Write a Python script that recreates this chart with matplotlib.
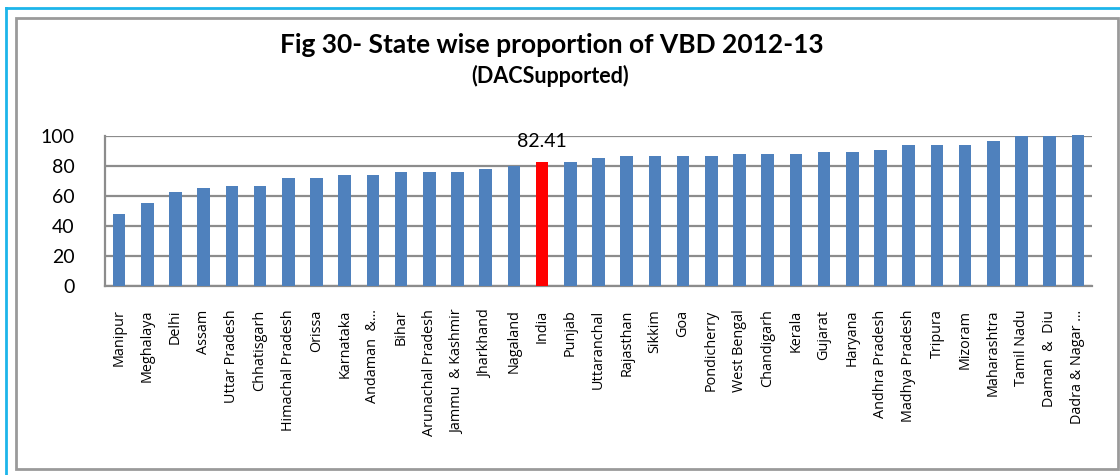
import matplotlib
matplotlib.use("Agg")
import matplotlib.pyplot as plt
from matplotlib.patches import Rectangle
from matplotlib.lines import Line2D

plt.rcParams['font.family'] = ['Lato', 'DejaVu Sans']

# data
states = ["Manipur", "Meghalaya", "Delhi", "Assam", "Uttar Pradesh", "Chhatisgarh",
          "Himachal Pradesh", "Orissa", "Karnataka", "Andaman  &...", "Bihar",
          "Arunachal Pradesh", "Jammu  & Kashmir", "Jharkhand", "Nagaland", "India",
          "Punjab", "Uttaranchal", "Rajasthan", "Sikkim", "Goa", "Pondicherry",
          "West Bengal", "Chandigarh", "Kerala", "Gujarat", "Haryana",
          "Andhra Pradesh", "Madhya Pradesh", "Tripura", "Mizoram", "Maharashtra",
          "Tamil Nadu", "Daman  &  Diu", "Dadra & Nagar ..."]
values = [48.2, 55.6, 62.9, 65.6, 67.0, 67.0, 71.7, 71.7, 74.3, 74.3, 75.7,
          75.7, 75.7, 78.3, 79.7, 82.41, 82.8, 85.3, 86.7, 86.7, 86.7, 86.7,
          88.0, 88.0, 88.0, 89.3, 89.3, 90.7, 94.0, 94.0, 94.0, 96.7,
          99.8, 99.8, 100.8]
highlight = "India"
yticks = [0, 20, 40, 60, 80, 100]

fig = plt.figure(figsize=(11.2, 4.75), dpi=100)

# outer blue frame (left and top) and inner grey frame
fig.add_artist(Line2D([5.5 / 1120, 5.5 / 1120], [0, 1 - 7.5 / 475],
                      transform=fig.transFigure, color="#1DB5EA", lw=2))
fig.add_artist(Line2D([5.5 / 1120, 1], [1 - 7.5 / 475, 1 - 7.5 / 475],
                      transform=fig.transFigure, color="#1DB5EA", lw=2))
fig.add_artist(Rectangle((16 / 1120, 6 / 475), (1118 - 16) / 1120, (457 - 6) / 475,
                         transform=fig.transFigure, fill=False,
                         edgecolor="#9A9A9A", lw=2))

ax = fig.add_axes([105 / 1120, 189 / 475, (1092 - 105) / 1120, 150 / 475])

x = list(range(len(states)))
colors = ["#FF0000" if s == highlight else "#4F81BD" for s in states]
bars = ax.bar(x, values, width=0.45, color=colors, zorder=3)
for b in bars:
    b.set_clip_on(False)

i = states.index(highlight)
ax.text(i, values[i] + 8, f"{values[i]:.2f}", ha="center", va="bottom",
        fontsize=14, color="#000000")

ax.set_xlim(-0.5, len(states) - 0.5)
ax.set_ylim(0, 100)
ax.set_yticks(yticks)
ax.set_yticklabels([str(v) for v in yticks], fontsize=14)
ax.set_xticks(x)
ax.set_xticklabels(states, rotation=90, fontsize=10.4, family="Open Sans")
ax.tick_params(axis="x", length=0, pad=17)
ax.tick_params(axis="y", length=0, pad=22)
ax.yaxis.grid(True, color="#8C8C8C", lw=1.6, zorder=0)
ax.set_axisbelow(True)

for side in ["top", "right"]:
    ax.spines[side].set_visible(False)
for side in ["left", "bottom"]:
    ax.spines[side].set_color("#8C8C8C")
    ax.spines[side].set_linewidth(1.6)

fig.text(552 / 1120, 1 - 45 / 475, "Fig 30- State wise proportion of VBD 2012-13",
         ha="center", va="center", fontsize=19, fontweight="bold")
fig.text(550 / 1120, 1 - 76 / 475, "(DACSupported)",
         ha="center", va="center", fontsize=15.5, fontweight="bold")

fig.savefig("out.png", dpi=100)
